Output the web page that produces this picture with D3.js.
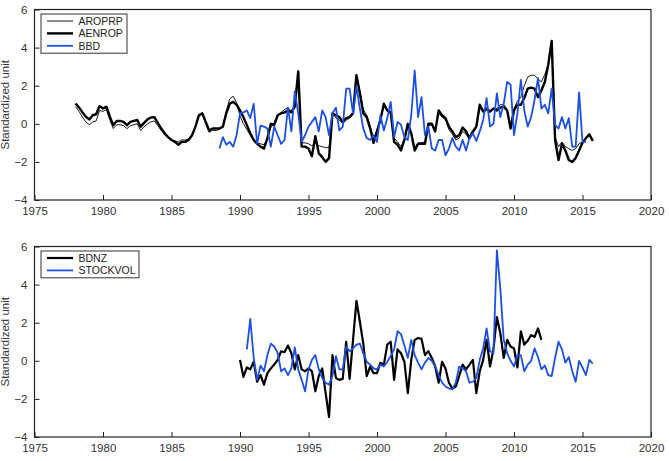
<!DOCTYPE html>
<html>
<head>
<meta charset="utf-8">
<script src="https://cdn.jsdelivr.net/npm/d3@7"></script>
<style>
  body { margin: 0; background: #fff; }
  svg { font-family: 'Liberation Sans', Arial, sans-serif; }
  .tick text { fill: #333; font-size: 11.5px; }
  .tick line { stroke: #222; }
  .domain { display: none; }
</style>
</head>
<body>
<svg id="chart" width="669" height="461"></svg>
<script>
// quarterly series, first value is the start year/quarter given next to it
const aroprpStart = 1978.0;
const aroprp = [
  0.9, 0.65, 0.35, 0.1, -0.05, 0.1, 0.15, 0.7, 0.65, 0.75, 0.2, -0.25,
  -0.05, -0.05, -0.1, -0.25, -0.1, -0.05, 0.0, -0.35, -0.15, 0.0, 0.1, 0.15,
  -0.1, -0.35, -0.55, -0.75, -0.85, -0.9, -0.95, -0.85, -0.85, -0.8, -0.55, -0.15,
  0.4, 0.5, 0.0, -0.45, -0.35, -0.35, -0.3, -0.1, 0.7, 1.3, 1.45, 1.1,
  0.4, 0.0, -0.3, -0.6, -0.9, -1.0, -1.05, -1.1, -0.8, -0.2, 0.0, 0.4,
  0.6, 0.75, 0.85, 0.65, 0.95, 2.4, -1.0, -1.0, -1.05, -1.15, -1.0, -1.15,
  -1.2, -1.25, -1.25, 0.6, 0.3, 0.2, 0.0, 0.2, 0.3, 0.65, 2.6, 1.7,
  0.75, 0.45, -0.1, -0.8, -0.3, 0.25, 0.9, 0.7, 0.6, -0.75, -0.95, -1.2,
  -0.8, -0.1, -0.55, -1.25, -1.0, -1.0, -0.95, -0.1, -0.05, -0.4, 0.55, 0.35,
  0.2, -0.3, -0.55, -0.85, -0.75, -0.4, -0.55, -0.8, -0.5, -0.2, 0.85, 0.6,
  0.7, 0.6, 0.75, 0.8, 1.0, 1.0, 0.75, -0.1, 0.8, 1.2, 1.4, 2.0,
  2.45, 2.55, 2.55, 2.35, 2.2, 2.6, 3.1, 4.3, -0.7, -1.2, -0.95, -1.2,
  -1.3, -1.4, -1.3, -1.05, -0.95
];
const aenropStart = 1978.0;
const aenrop = [
  1.07, 0.86, 0.6, 0.37, 0.23, 0.45, 0.5, 0.93, 0.8, 0.9, 0.37, -0.07,
  0.15, 0.15, 0.1, -0.07, 0.1, 0.15, 0.2, -0.15, 0.05, 0.23, 0.33, 0.35,
  0.05, -0.25, -0.5, -0.7, -0.85, -0.95, -1.1, -0.95, -0.95, -0.85, -0.6, -0.15,
  0.45, 0.55, 0.1, -0.35, -0.25, -0.25, -0.25, -0.15, 0.55, 1.05, 1.15, 1.0,
  0.7, 0.35, -0.07, -0.5, -0.85, -1.05, -1.2, -1.3, -0.75, 0.0, -0.05, 0.45,
  0.55, 0.6, 0.7, 0.6, 0.9, 2.75, -1.2, -1.2, -1.3, -1.7, -0.65, -1.55,
  -1.75, -2.0, -1.8, 0.55, 0.45, 0.35, 0.1, 0.3, 0.35, 0.55, 2.55, 1.6,
  0.55, 0.35, -0.25, -1.0, -0.4, 0.2, 1.05, 0.7, 0.6, -0.95, -1.1, -1.4,
  -0.85, 0.0, -0.5, -1.4, -1.05, -1.05, -1.05, 0.0, 0.0, -0.4, 0.7, 0.45,
  0.3, -0.15, -0.4, -0.7, -0.6, -0.2, -0.4, -0.75, -0.4, -0.15, 1.0, 0.65,
  0.8, 0.65, 0.8, 0.7, 0.85, 0.9, 0.7, -0.25, 0.7, 1.0, 1.0, 1.35,
  1.85, 1.9, 1.85, 1.4, 1.75, 2.2, 3.1, 4.35, -0.85, -1.9, -1.05, -1.4,
  -1.9, -2.0, -1.8, -1.4, -1.0, -0.75, -0.55, -0.9
];
const bbdStart = 1988.5;
const bbd = [
  -1.3, -0.7, -1.1, -0.95, -1.2, -0.6, 0.55, 0.6, 0.7, 0.3,
  1.05, -1.05, -0.1, -0.15, -0.25, -1.2, -0.15, -0.6, -1.05, -0.85, 0.85, -0.4,
  1.7, 0.55, -0.95, -0.6, -0.15, 0.1, 0.35, -0.4, 0.7, 0.35, -0.6, 0.55,
  0.85, -0.35, -0.15, 1.85, 1.85, 0.55, 1.95, 0.8, -0.25, -0.75, -0.85, -0.6,
  -0.95, 0.45, -0.35, 0.3, 1.15, -0.7, 0.1, -0.05, -0.7, -0.85, 0.45, 2.8,
  0.35, 1.4, -0.6, -0.15, -1.3, -1.4, -0.85, -0.85, -1.65, -1.3, -0.75, -1.2,
  -1.4, -0.85, -1.4, -0.75, -0.5, -0.9, -0.4, 0.2, 1.35, -0.15, 0.0, 1.6,
  0.35, 1.05, 2.2, 2.05, -0.6, 0.55, 2.3, 0.7, -0.15, 0.35, 1.25, 2.4,
  0.8, 1.0, 0.55, 1.85, -0.05, -0.25, 0.35, -0.25, 0.3, -1.2, -1.2, 1.65,
  -0.95, -0.95
];
const bdnzStart = 1990.0;
const bdnz = [
  0.05, -0.85, -0.35, -0.45, -0.05, -1.1, -0.75, -1.25, -0.65, -0.4, -0.2, 0.05,
  0.5, 0.45, 0.8, 0.4, -0.45, 0.3, -0.45, -0.55, -0.4, -0.55, -1.6, -0.8,
  -0.4, -1.7, -2.95, 0.3, -0.9, -1.0, -0.95, 1.0, -0.95, 1.1, 3.15, 2.05,
  0.9, -0.8, -0.3, -0.65, -0.65, -0.1, -0.2, 0.85, 1.0, -1.0, 0.6, 0.4,
  -0.05, -1.7, 0.05, 1.1, 1.2, 1.15, 0.3, 0.5, 0.15, -0.3, -1.15, -0.05,
  -0.4, -1.15, -1.45, -1.35, -0.8, -0.2, -0.45, -0.2, 0.05, -1.7, -0.55, 0.05,
  1.1, -0.3, 0.6, 2.3, 1.45, 0.15, 1.1, 0.75, 0.65, -0.35, 1.55, 0.85,
  1.05, 1.35, 1.25, 1.7, 1.1
];
const stockvolStart = 1990.5;
const stockvol = [
  0.6, 2.2, 0.15, -1.0, -0.25, -0.55, 0.3, 0.9, 0.75, 0.4,
  -0.55, -0.4, -0.75, -0.4, 0.7, -0.45, -1.0, -1.6, -0.45, 0.05, 0.3, -0.45,
  -0.9, -1.15, -1.25, -0.8, 0.25, -0.45, -0.45, 0.75, 0.5, 0.65, 0.85, 0.9,
  0.4, -0.05, -0.2, -0.4, -0.45, -0.2, -0.3, -0.05, 0.25, 0.6, 1.55, 1.4,
  0.8, 0.15, 1.1, 0.3, -0.1, -0.45, -0.1, 0.15, 0.0, -0.3, -0.75, -1.15,
  -1.35, -1.45, -1.5, -1.15, -0.3, -0.4, -0.55, -1.15, -1.1, -0.9, 0.05, 0.65,
  1.7, 0.5, 0.4, 5.8, 3.8, 1.1, 0.4, 0.0, -0.3, 0.3, 0.3, -0.55,
  -0.2, 0.0, 0.65, 0.2, -0.45, -0.25, -0.75, -0.8, 0.15, 1.0, 0.6, -0.1,
  0.2, -0.55, -1.1, 0.0, -0.35, -0.75, 0.05, -0.15
];
const xTicks = [1975, 1980, 1985, 1990, 1995, 2000, 2005, 2010, 2015, 2020];
const yTicks = [-4, -2, 0, 2, 4, 6];
const yLabel = 'Standardized unit';

const blue = '#1c4fe4';
const svg = d3.select('#chart');

// x scale shared by both panels
const x = d3.scaleLinear().domain([1975, 2020]).range([34.5, 651]);

// turn a quarterly array into [year, value] pairs
const toPoints = (start, vals) => vals.map((v, i) => [start + i * 0.25, v]);

// drawPanel: frame, axes, lines and legend of one panel
const drawPanel = function (top, bottom, series, legendW) {
  const y = d3.scaleLinear().domain([-4, 6]).range([bottom, top]);
  const g = svg.append('g');

  g.append('g')
    .attr('transform', `translate(0,${bottom})`)
    .call(d3.axisBottom(x).tickValues(xTicks).tickFormat(d3.format('d'))
      .tickSizeInner(-5).tickSizeOuter(0).tickPadding(7));
  g.append('g')
    .attr('transform', `translate(${x.range()[0]},0)`)
    .call(d3.axisLeft(y).tickValues(yTicks)
      .tickSizeInner(-5).tickSizeOuter(0).tickPadding(7));

  const line = d3.line().x(d => x(d[0])).y(d => y(d[1]));
  series.forEach(s => {
    g.append('path')
      .datum(toPoints(s.start, s.values))
      .attr('d', line)
      .attr('fill', 'none')
      .attr('stroke', s.color)
      .attr('stroke-width', s.width)
      .attr('stroke-linejoin', 'round');
  });

  // frame around plot area
  g.append('rect')
    .attr('x', x.range()[0]).attr('y', top)
    .attr('width', x.range()[1] - x.range()[0]).attr('height', bottom - top)
    .attr('fill', 'none').attr('stroke', '#222').attr('stroke-width', 1.2);

  // y axis title
  g.append('text')
    .attr('transform', `translate(8.5,${(top + bottom) / 2}) rotate(-90)`)
    .attr('text-anchor', 'middle')
    .style('font-size', '11.5px').style('fill', '#333')
    .text(yLabel);

  // legend
  const lg = g.append('g').attr('transform', `translate(41,${top + 4.5})`);
  lg.append('rect')
    .attr('width', legendW).attr('height', series.length * 12.4 + 2)
    .attr('fill', '#fff').attr('stroke', '#333').attr('stroke-width', 1);
  series.forEach((s, i) => {
    const ly = 7 + i * 12.4;
    lg.append('line')
      .attr('x1', 6).attr('x2', 32).attr('y1', ly).attr('y2', ly)
      .attr('stroke', s.color).attr('stroke-width', s.width);
    lg.append('text')
      .attr('x', 37.5).attr('y', ly + 3.7)
      .style('font-size', '10.5px').style('fill', '#222')
      .text(s.name);
  });
};

drawPanel(9.5, 200, [
  { name: 'AROPRP', start: aroprpStart, values: aroprp, color: '#000', width: 0.9 },
  { name: 'AENROP', start: aenropStart, values: aenrop, color: '#000', width: 2.4 },
  { name: 'BBD', start: bbdStart, values: bbd, color: blue, width: 1.8 },
], 86);

drawPanel(246.5, 437, [
  { name: 'BDNZ', start: bdnzStart, values: bdnz, color: '#000', width: 2.2 },
  { name: 'STOCKVOL', start: stockvolStart, values: stockvol, color: blue, width: 1.8 },
], 98);
</script>
</body>
</html>
